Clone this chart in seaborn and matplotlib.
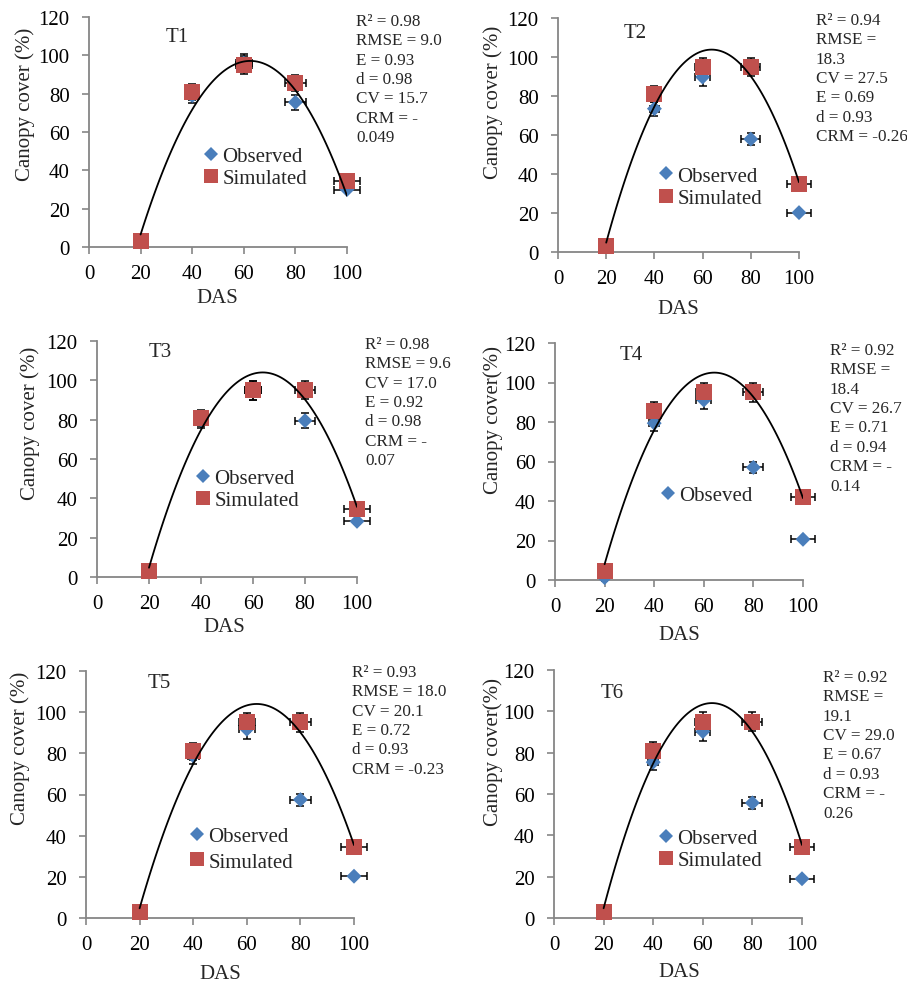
import numpy as np
import pandas as pd
import matplotlib
matplotlib.use("Agg")
import matplotlib.pyplot as plt
import seaborn as sns
from matplotlib.lines import Line2D

# ---------------- data ----------------
DAS = [20, 40, 60, 80, 100]

obs_T1 = [3, 79, 96, 75.5, 30]
sim_T1 = [3, 81, 95, 85.6, 34.5]
obs_T2 = [3, 73.5, 89.7, 57.9, 20.2]
sim_T2 = [3, 81, 94.7, 94.9, 34.8]
obs_T3 = [3, 80, 95, 79.5, 28.3]
sim_T3 = [3, 81, 95, 95.1, 34.6]
obs_T4 = [1.2, 79.4, 91.1, 57.0, 20.6]
sim_T4 = [4.6, 85.7, 95, 95, 41.8]
obs_T5 = [3, 78.8, 91.7, 57.5, 20.3]
sim_T5 = [3, 81, 95, 95, 34.4]
obs_T6 = [3, 75.4, 90.2, 55.7, 19.0]
sim_T6 = [3, 81, 95, 95, 34.3]

panel_names = ["T1", "T2", "T3", "T4", "T5", "T6"]
observed = [obs_T1, obs_T2, obs_T3, obs_T4, obs_T5, obs_T6]
simulated = [sim_T1, sim_T2, sim_T3, sim_T4, sim_T5, sim_T6]
# series the quadratic trend line is fitted to
trend_on = ["Observed", "Simulated", "Simulated", "Simulated", "Simulated", "Simulated"]

stats_T1 = ["R² = 0.98", "RMSE = 9.0", "E = 0.93", "d = 0.98", "CV = 15.7", "CRM = -", "0.049"]
stats_T2 = ["R² = 0.94", "RMSE =", "18.3", "CV = 27.5", "E = 0.69", "d = 0.93", "CRM = -0.26"]
stats_T3 = ["R² = 0.98", "RMSE = 9.6", "CV = 17.0", "E = 0.92", "d = 0.98", "CRM = -", "0.07"]
stats_T4 = ["R² = 0.92", "RMSE =", "18.4", "CV = 26.7", "E = 0.71", "d = 0.94", "CRM = -", "0.14"]
stats_T5 = ["R² = 0.93", "RMSE = 18.0", "CV = 20.1", "E = 0.72", "d = 0.93", "CRM = -0.23"]
stats_T6 = ["R² = 0.92", "RMSE =", "19.1", "CV = 29.0", "E = 0.67", "d = 0.93", "CRM = -", "0.26"]
stats = [stats_T1, stats_T2, stats_T3, stats_T4, stats_T5, stats_T6]

ylabels = ["Canopy cover (%)", "Canopy cover (%)", "Canopy cover (%)",
           "Canopy cover(%)", "Canopy cover (%)", "Canopy cover(%)"]
legend_labels = [["Observed", "Simulated"], ["Observed", "Simulated"],
                 ["Observed", "Simulated"], ["Obseved"],
                 ["Observed", "Simulated"], ["Observed", "Simulated"]]
x_ticks = [0, 20, 40, 60, 80, 100]
y_ticks = [0, 20, 40, 60, 80, 100, 120]

ERR_FRAC = 0.05  # percentage error bars on both axes

# ---------------- style ----------------
BLUE = "#4A7EBB"
RED = "#C0504D"
AXIS_GREY = "#868686"

W, H = 907, 987
sns.set_theme(style="ticks")
plt.rcParams["font.family"] = ["Liberation Serif", "DejaVu Serif"]

fig = plt.figure(figsize=(W / 100, H / 100), dpi=100)


def box(l, t, r, b):
    return [l / W, 1 - b / H, (r - l) / W, (b - t) / H]


def fx(x):
    return x / W


def fy(y):
    return 1 - y / H


# pixel layout of each panel
layout = [
    dict(ax=(89, 18, 347, 248), title=(177, 37), stats=(356, 14), leg=(211, 155, 182), ylab=(25, 104), xlab=(217, 299), lsp=0.12),
    dict(ax=(558, 19, 799, 253), title=(635, 33), stats=(816, 13), leg=(666, 175, 201), ylab=(493, 102), xlab=(678, 310), lsp=0.12),
    dict(ax=(97, 342, 357, 578), title=(160, 353), stats=(365, 337), leg=(203, 477, 504), ylab=(30, 423), xlab=(224, 628), lsp=0.12),
    dict(ax=(555, 344, 803, 581), title=(631, 356), stats=(830, 343), leg=(668, 496, None), ylab=(493, 420), xlab=(679, 636), lsp=0.12),
    dict(ax=(86, 672, 354, 919), title=(159, 684), stats=(352, 665), leg=(197, 835, 865), ylab=(20, 748), xlab=(220, 975), lsp=0.3),
    dict(ax=(554, 671, 802, 919), title=(612, 693), stats=(823, 670), leg=(666, 838, 863), ylab=(493, 752), xlab=(679, 973), lsp=0.12),
]

FS = 15            # axis / tick / legend font size (pt)
FS_STATS = 12.3
fs_px = FS * 100 / 72

for i in range(6):
    L = layout[i]
    ax = fig.add_axes(box(*L["ax"]))
    df = pd.DataFrame({"DAS": DAS, "Observed": observed[i], "Simulated": simulated[i]})

    for col in ["Observed", "Simulated"]:
        ax.errorbar(df["DAS"], df[col],
                    xerr=ERR_FRAC * df["DAS"], yerr=ERR_FRAC * df[col],
                    fmt="none", ecolor="black", elinewidth=1.1,
                    capsize=2.6, capthick=1.1, zorder=2, clip_on=False)

    sns.scatterplot(data=df, x="DAS", y="Observed", marker="D", s=58,
                    color=BLUE, edgecolor="none", linewidth=0, ax=ax,
                    zorder=3, clip_on=False)
    sns.scatterplot(data=df, x="DAS", y="Simulated", marker="s", s=133,
                    color=RED, edgecolor="none", linewidth=0, ax=ax,
                    zorder=4, clip_on=False)
    sns.regplot(data=df, x="DAS", y=trend_on[i], order=2, ci=None,
                scatter=False, truncate=True, color="black",
                line_kws=dict(lw=1.3, zorder=5), ax=ax)

    ax.set_xlim(0, 100)
    ax.set_ylim(0, 120)
    ax.set_xticks(x_ticks)
    ax.set_yticks(y_ticks)
    ax.set_xlabel("")
    ax.set_ylabel("")
    sns.despine(ax=ax)
    for s in ["left", "bottom"]:
        ax.spines[s].set_color(AXIS_GREY)
        ax.spines[s].set_linewidth(1.3)
    ax.tick_params(axis="both", direction="out", length=5, width=1.2,
                   color=AXIS_GREY, labelcolor="black", labelsize=FS)
    ax.tick_params(axis="y", pad=9)
    ax.tick_params(axis="x", pad=7)

    # panel title, statistics, axis labels
    fig.text(fx(L["title"][0]), fy(L["title"][1]), panel_names[i],
             fontsize=FS, ha="center", va="center")
    fig.text(fx(L["stats"][0]), fy(L["stats"][1]), "\n".join(stats[i]),
             fontsize=FS_STATS, ha="left", va="top", linespacing=1.28)
    fig.text(fx(L["ylab"][0]), fy(L["ylab"][1]), ylabels[i], fontsize=FS,
             rotation=90, ha="center", va="center")
    fig.text(fx(L["xlab"][0]), fy(L["xlab"][1]), "DAS", fontsize=FS,
             ha="center", va="center")

    # legend
    handles = [Line2D([], [], ls="none", marker="D", markersize=7.6,
                      markerfacecolor=BLUE, markeredgewidth=0),
               Line2D([], [], ls="none", marker="s", markersize=10,
                      markerfacecolor=RED, markeredgewidth=0)]
    labels = legend_labels[i]
    cx, y1, y2 = L["leg"]
    cy = y1 if y2 is None else (y1 + y2) / 2
    ax.legend(handles[:len(labels)], labels, loc="center left",
              bbox_to_anchor=(fx(cx - 0.4 * fs_px), fy(cy)),
              bbox_transform=fig.transFigure, frameon=False, fontsize=FS,
              handlelength=0.8, handletextpad=0.15, borderpad=0,
              borderaxespad=0, labelspacing=L["lsp"])

fig.savefig("out.png", dpi=100)
